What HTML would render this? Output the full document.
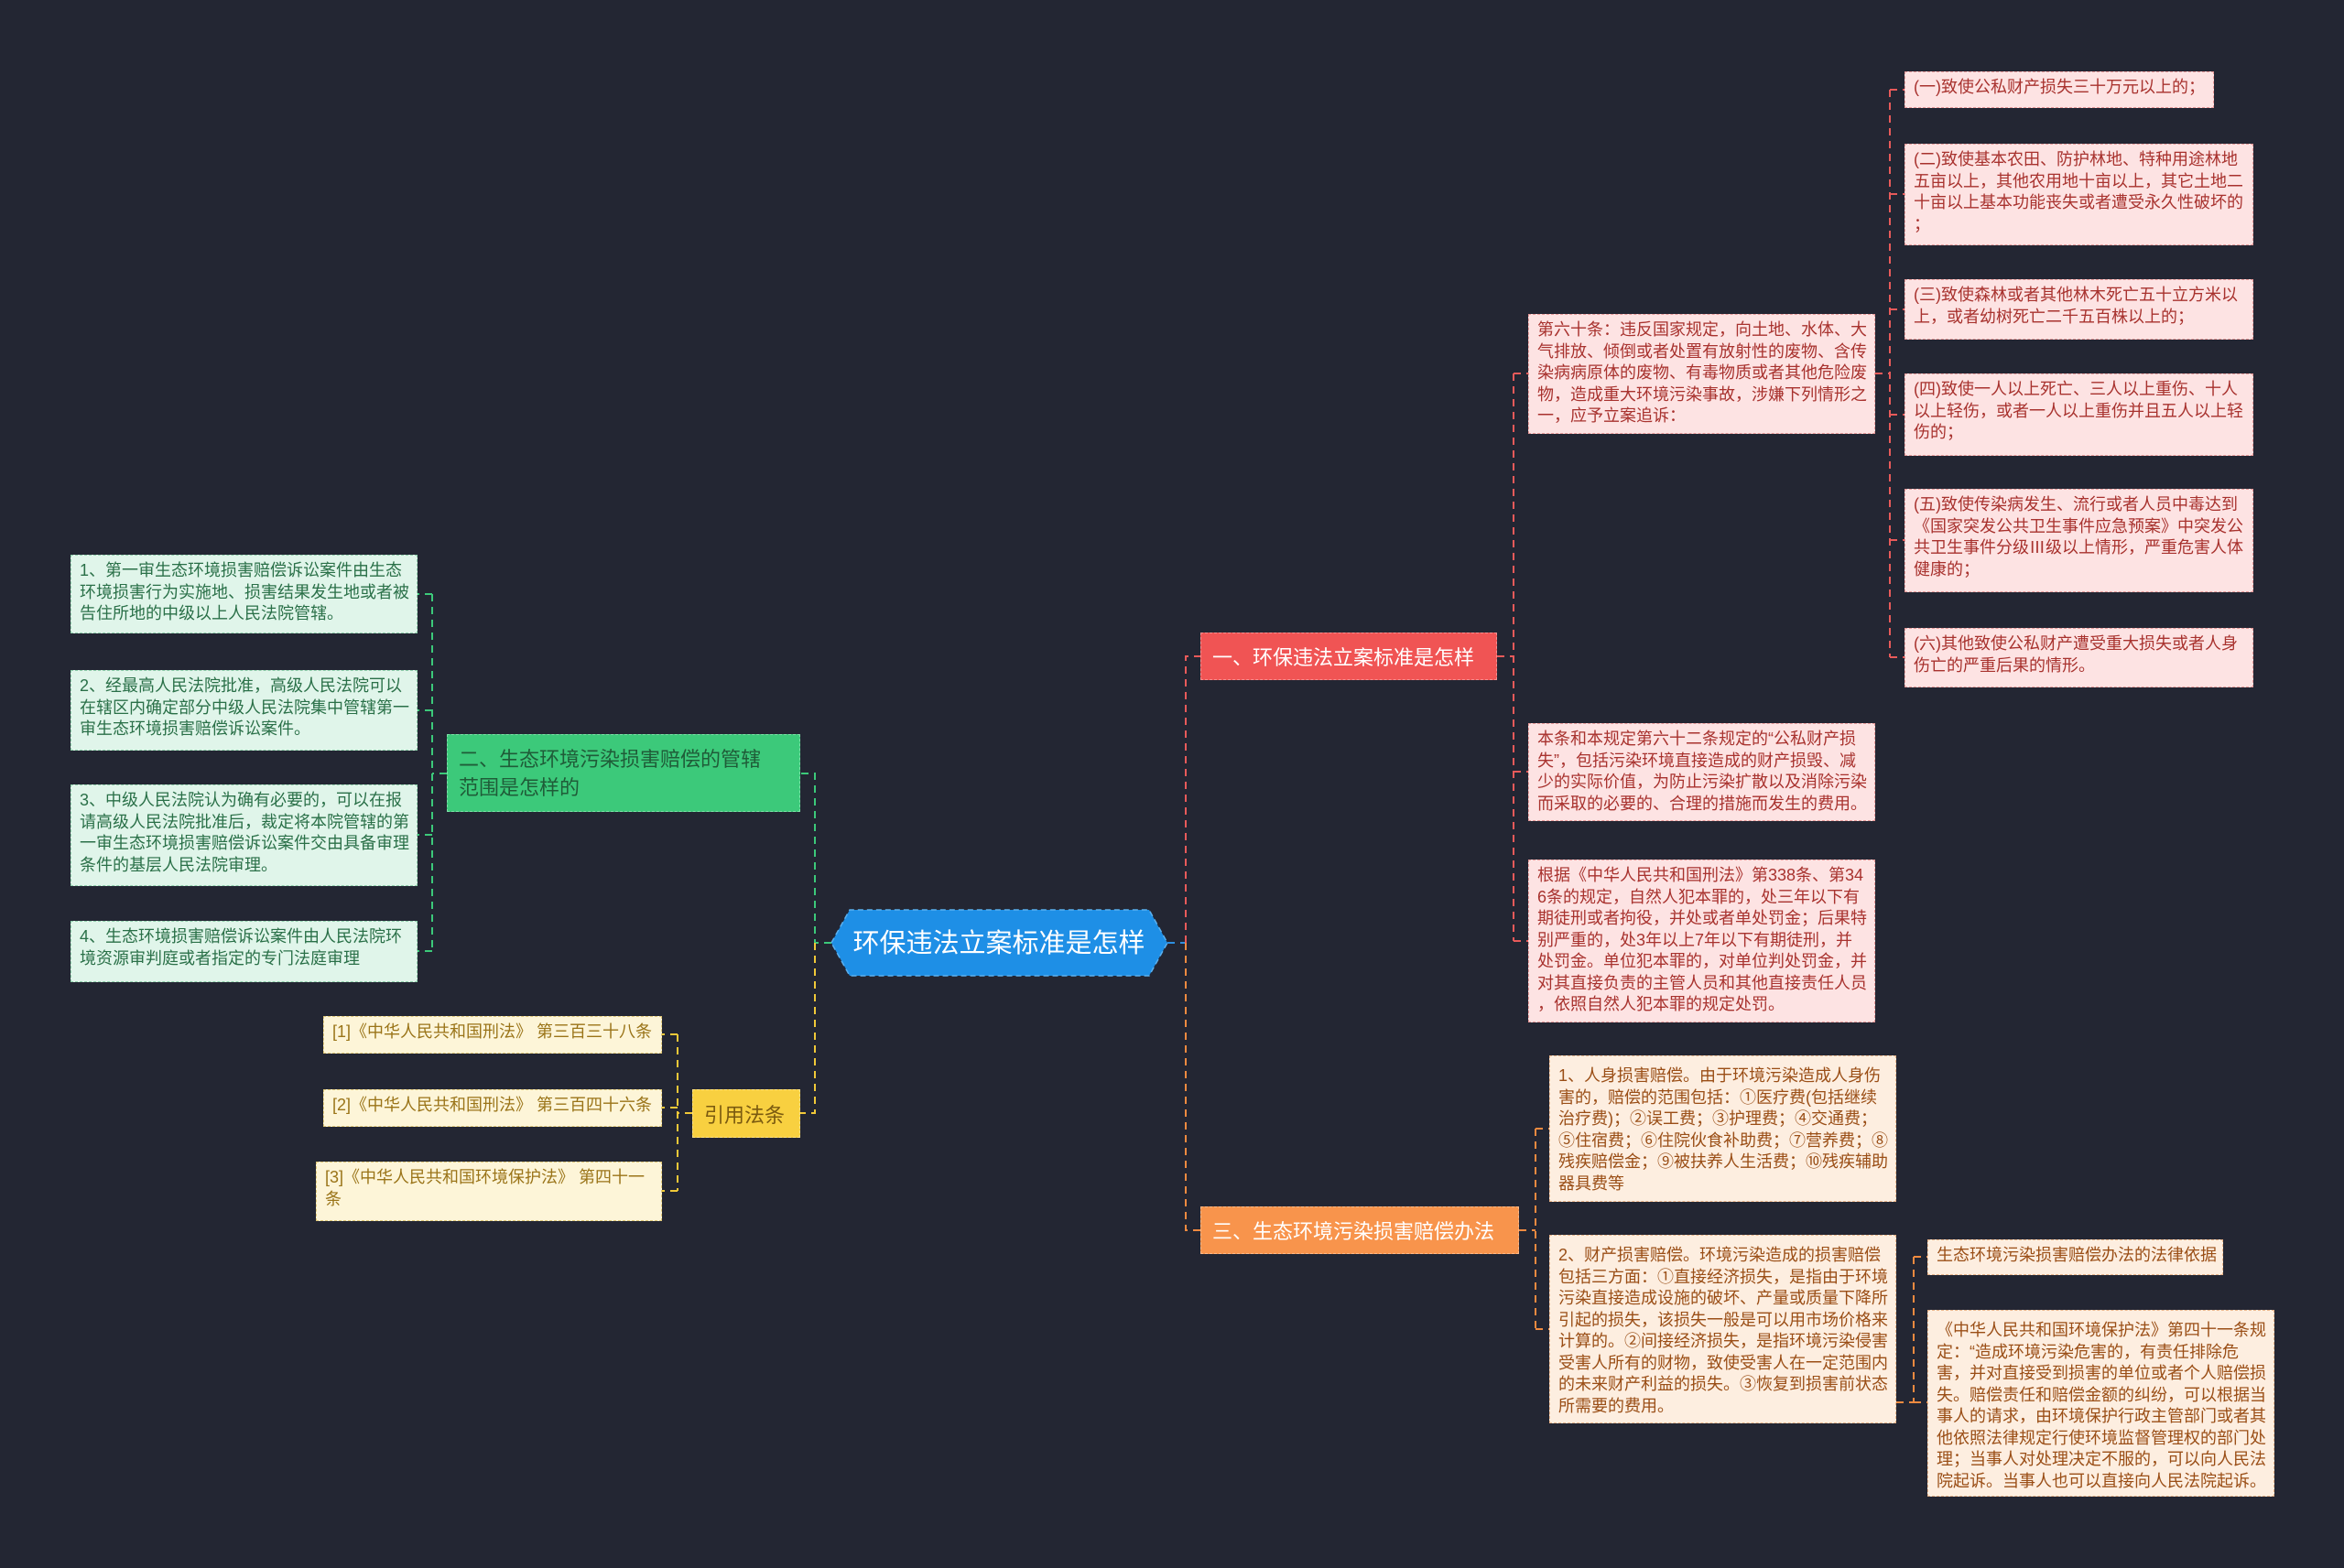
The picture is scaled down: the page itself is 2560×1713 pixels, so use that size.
<!DOCTYPE html>
<html><head><meta charset="utf-8"><style>
body{margin:0;width:2560px;height:1713px;background:#232633;overflow:hidden;position:relative;font-family:"Liberation Sans","Noto Sans CJK SC",sans-serif}
.n{position:absolute;box-sizing:border-box;white-space:nowrap;font-size:18px;line-height:23.5px;padding:5px 9px;border:1.5px dashed}
.r{background:#fde3e3;color:#a8322e;border-color:#e89a9a}
.o{background:#fdeee0;color:#9a4e16;border-color:#e8b48a}
.g{background:#e0f5ea;color:#2a7048;border-color:#8fd0ac}
.y{background:#fdf5d8;color:#9a7418;border-color:#e0c878}
.b{position:absolute;box-sizing:border-box;white-space:nowrap;font-size:22px;display:flex;align-items:center;padding:0 12px;border:1.5px dashed}
svg{position:absolute;left:0;top:0}
</style></head><body>
<svg width="2560" height="1713" fill="none" stroke-width="2" stroke-dasharray="8,6">
<g stroke="#2e8fe0"><path d="M1275 1030 H1295"/></g>
<g stroke="#e85a5a"><path d="M1295 1030 V717 H1311"/><path d="M1635 717 H1653"/><path d="M1653 408 V1028"/><path d="M1653 408 H1669 M1653 843 H1669 M1653 1028 H1669"/><path d="M2048 408 H2064 M2064 98 V718 M2064 98 H2080 M2064 212 H2080 M2064 338 H2080 M2064 453 H2080 M2064 590 H2080 M2064 718 H2080"/></g>
<g stroke="#f08a40"><path d="M1295 1030 V1344 H1311"/><path d="M1659 1344 H1677 M1677 1233 V1452 M1677 1233 H1692 M1677 1452 H1692"/><path d="M2071 1532 H2090 M2090 1373 V1532 M2090 1373 H2105 M2090 1532 H2105"/></g>
<g stroke="#3cc97a"><path d="M908 1030 H890 V845 H874"/><path d="M488 845 H472 M472 649 V1039 M472 649 H456 M472 776 H456 M472 912 H456 M472 1039 H456"/></g>
<g stroke="#f0c838"><path d="M890 1030 V1216 H874"/><path d="M756 1216 H740 M740 1130 V1301 M740 1130 H723 M740 1210 H723 M740 1301 H723"/></g>
</svg>
<svg width="2560" height="1713"><polygon points="908,1030 928,994 1255,994 1275,1030 1255,1066 928,1066" fill="#1e8fe6" stroke="#5ab0f0" stroke-width="1.5" stroke-dasharray="6,4"/><text x="1091" y="1040" font-size="29" fill="#fff" text-anchor="middle" font-family="Liberation Sans,Noto Sans CJK SC,sans-serif">环保违法立案标准是怎样</text></svg>
<div class="b" style="left:1311px;top:691px;width:324px;height:52px;background:#f05454;color:#fff;border-color:#f59090">一、环保违法立案标准是怎样</div>
<div class="b" style="left:1311px;top:1318px;width:348px;height:52px;background:#f8944c;color:#fff;border-color:#fbb888">三、生态环境污染损害赔偿办法</div>
<div class="b" style="left:488px;top:802px;width:386px;height:85px;background:#3cc97a;color:#1f5c38;border-color:#7de0a8;line-height:31px">二、生态环境污染损害赔偿的管辖<br>范围是怎样的</div>
<div class="b" style="left:756px;top:1190px;width:118px;height:53px;background:#f8d040;color:#7a5a10;border-color:#fbe088">引用法条</div>

<div class="n r" style="left:1669px;top:343px;width:379px;height:131px">第六十条：违反国家规定，向土地、水体、大<br>气排放、倾倒或者处置有放射性的废物、含传<br>染病病原体的废物、有毒物质或者其他危险废<br>物，造成重大环境污染事故，涉嫌下列情形之<br>一，应予立案追诉：</div>
<div class="n r" style="left:1669px;top:790px;width:379px;height:107px">本条和本规定第六十二条规定的“公私财产损<br>失”，包括污染环境直接造成的财产损毁、减<br>少的实际价值，为防止污染扩散以及消除污染<br>而采取的必要的、合理的措施而发生的费用。</div>
<div class="n r" style="left:1669px;top:939px;width:379px;height:178px">根据《中华人民共和国刑法》第338条、第34<br>6条的规定，自然人犯本罪的，处三年以下有<br>期徒刑或者拘役，并处或者单处罚金；后果特<br>别严重的，处3年以上7年以下有期徒刑，并<br>处罚金。单位犯本罪的，对单位判处罚金，并<br>对其直接负责的主管人员和其他直接责任人员<br>，依照自然人犯本罪的规定处罚。</div>
<div class="n r" style="left:2080px;top:78px;width:338px;height:40px">(一)致使公私财产损失三十万元以上的；</div>
<div class="n r" style="left:2080px;top:157px;width:381px;height:111px">(二)致使基本农田、防护林地、特种用途林地<br>五亩以上，其他农用地十亩以上，其它土地二<br>十亩以上基本功能丧失或者遭受永久性破坏的<br>；</div>
<div class="n r" style="left:2080px;top:305px;width:381px;height:66px">(三)致使森林或者其他林木死亡五十立方米以<br>上，或者幼树死亡二千五百株以上的；</div>
<div class="n r" style="left:2080px;top:408px;width:381px;height:90px">(四)致使一人以上死亡、三人以上重伤、十人<br>以上轻伤，或者一人以上重伤并且五人以上轻<br>伤的；</div>
<div class="n r" style="left:2080px;top:534px;width:381px;height:113px">(五)致使传染病发生、流行或者人员中毒达到<br>《国家突发公共卫生事件应急预案》中突发公<br>共卫生事件分级Ⅲ级以上情形，严重危害人体<br>健康的；</div>
<div class="n r" style="left:2080px;top:686px;width:381px;height:65px">(六)其他致使公私财产遭受重大损失或者人身<br>伤亡的严重后果的情形。</div>

<div class="n o" style="left:1692px;top:1153px;width:379px;height:160px;padding-top:10px">1、人身损害赔偿。由于环境污染造成人身伤<br>害的，赔偿的范围包括：①医疗费(包括继续<br>治疗费)；②误工费；③护理费；④交通费；<br>⑤住宿费；⑥住院伙食补助费；⑦营养费；⑧<br>残疾赔偿金；⑨被扶养人生活费；⑩残疾辅助<br>器具费等</div>
<div class="n o" style="left:1692px;top:1349px;width:379px;height:206px;padding-top:10px">2、财产损害赔偿。环境污染造成的损害赔偿<br>包括三方面：①直接经济损失，是指由于环境<br>污染直接造成设施的破坏、产量或质量下降所<br>引起的损失，该损失一般是可以用市场价格来<br>计算的。②间接经济损失，是指环境污染侵害<br>受害人所有的财物，致使受害人在一定范围内<br>的未来财产利益的损失。③恢复到损害前状态<br>所需要的费用。</div>
<div class="n o" style="left:2105px;top:1354px;width:323px;height:39px">生态环境污染损害赔偿办法的法律依据</div>
<div class="n o" style="left:2105px;top:1431px;width:379px;height:204px;padding-top:10px">《中华人民共和国环境保护法》第四十一条规<br>定：“造成环境污染危害的，有责任排除危<br>害，并对直接受到损害的单位或者个人赔偿损<br>失。赔偿责任和赔偿金额的纠纷，可以根据当<br>事人的请求，由环境保护行政主管部门或者其<br>他依照法律规定行使环境监督管理权的部门处<br>理；当事人对处理决定不服的，可以向人民法<br>院起诉。当事人也可以直接向人民法院起诉。</div>

<div class="n g" style="left:77px;top:606px;width:379px;height:86px">1、第一审生态环境损害赔偿诉讼案件由生态<br>环境损害行为实施地、损害结果发生地或者被<br>告住所地的中级以上人民法院管辖。</div>
<div class="n g" style="left:77px;top:732px;width:379px;height:88px">2、经最高人民法院批准，高级人民法院可以<br>在辖区内确定部分中级人民法院集中管辖第一<br>审生态环境损害赔偿诉讼案件。</div>
<div class="n g" style="left:77px;top:857px;width:379px;height:111px">3、中级人民法院认为确有必要的，可以在报<br>请高级人民法院批准后，裁定将本院管辖的第<br>一审生态环境损害赔偿诉讼案件交由具备审理<br>条件的基层人民法院审理。</div>
<div class="n g" style="left:77px;top:1006px;width:379px;height:67px">4、生态环境损害赔偿诉讼案件由人民法院环<br>境资源审判庭或者指定的专门法庭审理</div>

<div class="n y" style="left:353px;top:1110px;width:370px;height:41px">[1]《中华人民共和国刑法》 第三百三十八条</div>
<div class="n y" style="left:353px;top:1190px;width:370px;height:41px">[2]《中华人民共和国刑法》 第三百四十六条</div>
<div class="n y" style="left:345px;top:1269px;width:378px;height:65px">[3]《中华人民共和国环境保护法》 第四十一<br>条</div>
</body></html>
